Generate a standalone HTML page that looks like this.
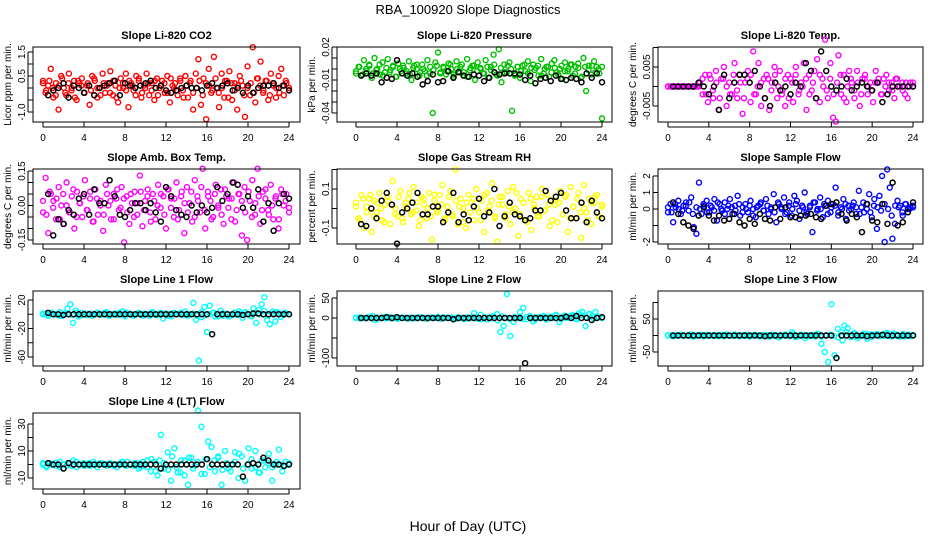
<!DOCTYPE html>
<html><head><meta charset="utf-8">
<style>
html,body{margin:0;padding:0;background:#fff;}
svg{display:block;font-family:"Liberation Sans",sans-serif;}
</style></head>
<body>
<svg id="chart" width="936" height="540" viewBox="0 0 936 540" xmlns="http://www.w3.org/2000/svg">
<rect x="0" y="0" width="936" height="540" fill="#fff"/>
<text x="468" y="14" text-anchor="middle" font-size="13">RBA_100920  Slope Diagnostics</text>
<text x="468" y="531" text-anchor="middle" font-size="14">Hour of Day (UTC)</text>
</svg>
<script>
// ---- data ----
const xTicks = [0,4,8,12,16,20,24];
const co2Color = [0.3,-0.2,0.1,0.8,-0.4,0.2,-0.9,0.5,0.0,-0.3,0.6,-0.1,0.3,-0.5,0.2,0.4,-0.2,0.1,-0.7,0.5,0.3,-0.4,0.0,0.6,-0.2,0.2,0.7,-0.3,0.1,-0.6,0.4,0.0,0.6,-0.8,0.2,-0.1,0.5,0.3,-0.4,0.1,0.6,-0.3,0.2,-0.5,0.4,0.0,0.3,-0.2,0.5,-0.6,0.1,0.2,-0.3,0.4,-0.1,0.5,-0.4,0.3,-0.9,0.6,1.2,-0.7,0.4,-1.3,0.8,-0.2,1.3,0.0,-0.8,0.6,-0.4,0.3,0.7,-0.5,0.2,-0.9,0.5,0.1,-1.2,0.9,-0.3,1.7,-0.6,0.4,1.1,-0.2,0.3,-0.5,0.6,0.1,-0.4,0.5,0.8,-0.3,0.2,0.0];
const co2Band = [0.2,-0.1,0.3,0.0,-0.3,0.1,0.4,-0.2,0.2,0.0,-0.4,0.3,0.1,-0.2,0.2,-0.1,0.4,0.0,-0.3,0.2,0.1,-0.2,0.3,-0.4,0.0,0.2,-0.1,0.3,0.1,-0.3,0.4,-0.2,0.0,0.2,-0.1,0.3,-0.3,0.1,0.2,-0.2,0.4,0.0,-0.1,0.3,-0.4,0.1,0.2,-0.2,0.0,0.3,-0.3,0.2,0.1,-0.1,0.4,-0.2,0.0,0.3,-0.4,0.2,-0.1,0.1,0.3,-0.3,0.0,0.2,-0.2,0.4,0.1,-0.1,0.3,-0.3,0.2,0.0,-0.2,0.1,0.3,-0.1];
const co2Black = [-0.3,-0.1,0.0,0.2,-0.4,0.1,0.0,-0.2,0.1,-0.3,0.0,0.1,0.2,0.3,-0.3,0.2,0.1,0.0,0.1,0.2,0.3,0.0,0.1,-0.1,-0.2,-0.1,0.0,0.1,0.0,0.0,-0.1,0.1,0.2,0.0,0.1,0.2,-0.1,0.0,-0.2,0.1,-0.2,0.0,0.1,0.1,0.2,0.0,0.1,-0.1];
const presColor = [-0.004,0.002,-0.006,0.008,-0.002,0.004,-0.008,0.010,0.0,-0.005,0.006,-0.003,0.009,-0.001,0.003,-0.007,0.005,-0.002,0.001,-0.004,0.007,-0.010,0.003,0.0,-0.006,0.004,-0.002,0.008,-0.004,-0.040,0.006,0.015,-0.003,0.002,-0.005,0.005,0.0,-0.007,0.007,-0.002,0.004,-0.006,0.009,-0.001,0.003,-0.010,0.006,0.001,-0.004,0.008,-0.008,0.002,0.013,-0.005,0.018,-0.012,0.004,-0.003,0.006,-0.038,-0.006,0.002,-0.008,0.003,-0.002,0.007,-0.011,0.004,0.001,-0.006,0.009,-0.004,0.002,-0.007,0.005,0.008,-0.003,0.0,-0.009,0.006,-0.002,0.004,-0.006,0.002,0.005,-0.008,0.010,-0.020,0.003,-0.005,0.007,0.002,-0.004,-0.045];
const presBand = [-0.002,0.002,-0.005,0.0,0.003,-0.004,-0.001,0.004,-0.006,0.001,-0.003,0.002,-0.007,0.0,0.003,-0.002,-0.005,0.001,0.004,-0.003,0.0,-0.006,0.002,-0.001,0.003,-0.004,0.001,-0.002,0.004,-0.005,0.0,0.002,-0.003,-0.007,0.001,0.003,-0.002,0.0,-0.004,0.002,-0.001,0.004,-0.006,0.001,-0.003,0.003,0.0,-0.005,0.002,-0.002,0.004,-0.004,0.001,-0.001,0.003,-0.006,0.0,0.002,-0.003,0.001,-0.005,0.003,-0.002,0.0,0.004,-0.004,0.001,-0.007,0.002,-0.001,0.003,-0.003,0.0,0.002];
const presBlack = [-0.006,-0.004,-0.006,-0.004,-0.012,-0.008,-0.009,0.008,-0.004,-0.006,-0.004,-0.007,-0.014,-0.011,-0.005,-0.012,-0.011,-0.002,-0.008,-0.003,-0.006,-0.007,-0.005,-0.006,-0.011,-0.008,-0.003,-0.005,-0.004,-0.004,-0.004,-0.005,-0.010,-0.006,-0.013,-0.009,-0.008,-0.011,-0.006,-0.009,-0.010,-0.008,-0.009,-0.012,-0.004,-0.008,-0.004,-0.012];
const tempColor = [0,0,0,0,0,0,0,0,0,0,0,0,0.001,-0.002,0.003,-0.004,0.002,-0.003,0.004,-0.006,0.002,0.005,-0.005,0.001,-0.002,0.006,-0.003,0.003,-0.007,0.001,0.004,-0.004,0.009,-0.002,0.006,-0.005,0.002,0.003,-0.006,0.001,0.005,-0.003,0.004,-0.001,-0.005,0.003,0.002,-0.004,0.005,-0.002,0.001,0.006,-0.006,0.003,-0.001,0.004,0.007,-0.004,0.002,0.012,-0.003,0.006,-0.008,-0.009,0.008,-0.002,0.003,-0.004,0.004,0.001,-0.003,0.004,-0.005,0.002,0.003,-0.002,0.001,-0.004,0.004,0.001,-0.002,0.002,0.003,-0.001,0.001,-0.003,0.002,0.0,0.001,-0.002,-0.003,0.001,0.0];
const tempBand = [0,0,0,0,0,0,0,0,0,0,0.002,-0.002,0.003,-0.001,0.001,-0.003,0.002,0.0,-0.002,0.003,-0.001,0.001,-0.003,0.002,0.003,-0.002,0.0,0.001,-0.003,0.002,-0.001,0.003,0.0,-0.002,0.002,-0.003,0.001,0.003,-0.001,0.0,0.002,-0.002,0.001,-0.003,0.003,0.0,-0.001,0.002,-0.002,0.001,0.003,-0.003,0.0,0.002,-0.001,0.001,-0.002,0.002,0.0,-0.001,0.001,0.002,-0.002,0.0,0.001,-0.001,0.002,0.0,-0.001,0.001,0.0,0.001];
const tempBlack = [0,0,0,0,0,0.001,0,-0.002,0,-0.006,0.003,-0.003,0.001,0.003,0.003,0.001,0.004,0,-0.003,-0.005,0.001,-0.001,0.0,-0.002,0.001,0.0,0.006,0.004,-0.003,0.009,0.004,0.0,-0.001,0,0.002,-0.001,0.0,0.001,0,-0.001,0.001,-0.004,-0.002,0.0,0.0,0.0,0.0,0.0];
const ambColor = [-0.03,0.12,-0.12,0.05,0.02,-0.06,0.08,0.0,-0.08,0.10,-0.03,0.04,-0.10,0.06,0.01,-0.05,0.11,-0.02,0.03,-0.07,0.07,-0.04,0.02,-0.11,0.09,0.0,-0.06,0.05,0.03,-0.02,0.08,-0.16,0.04,-0.08,0.01,0.06,-0.04,0.13,-0.09,0.02,0.07,-0.03,0.05,-0.06,0.09,-0.01,0.04,-0.10,0.07,0.03,-0.05,0.10,-0.02,0.06,-0.12,0.08,0.01,-0.07,0.11,0.04,-0.03,0.16,-0.10,0.06,0.02,-0.05,0.09,-0.01,0.07,-0.08,0.04,0.03,-0.06,0.10,-0.02,0.05,-0.13,0.08,-0.15,0.02,0.11,-0.04,0.16,-0.08,0.06,0.03,-0.02,0.09,-0.06,0.04,-0.10,0.07,0.0,0.05,-0.03];
const ambBand = [0.02,-0.04,0.06,-0.01,0.03,-0.06,0.05,0.0,-0.03,0.07,-0.05,0.01,0.04,-0.02,0.06,-0.07,0.03,0.0,-0.04,0.05,0.02,-0.06,0.07,-0.01,0.03,-0.03,0.05,-0.05,0.01,0.06,-0.02,0.04,-0.07,0.02,0.0,0.05,-0.04,0.07,-0.01,0.03,-0.06,0.04,0.01,-0.03,0.06,-0.05,0.02,0.08,-0.02,0.04,-0.06,0.05,0.0,-0.04,0.07,-0.01,0.03,-0.07,0.05,0.02,-0.03,0.06,-0.05,0.01,0.04,-0.02,0.07,-0.04,0.0,0.03,-0.06,0.05,0.02,-0.01];
const ambBlack = [0.05,-0.13,-0.06,-0.08,-0.02,-0.04,0.03,0.05,-0.04,0.07,0.01,0.01,0.11,0.04,-0.04,-0.05,-0.02,0.01,0.01,-0.02,0.01,-0.03,-0.07,0.08,0.04,-0.02,-0.04,-0.05,0.00,-0.03,0.00,-0.03,-0.01,0.08,0.02,0.05,0.10,0.09,-0.01,0.04,-0.01,0.07,-0.07,0.01,-0.11,0.01,0.05,0.03];
const rhColor = [0.03,-0.05,0.07,-0.10,0.01,0.05,-0.12,0.04,-0.02,0.08,-0.06,0.02,0.06,-0.08,0.14,0.00,-0.04,0.09,-0.07,0.03,0.05,-0.03,0.11,-0.01,-0.09,0.06,0.02,-0.05,0.08,-0.16,0.04,-0.02,0.07,0.12,-0.06,0.01,0.09,-0.04,0.20,-0.08,0.05,0.00,-0.10,0.07,0.03,-0.06,0.10,-0.02,0.04,-0.12,0.08,0.01,0.13,-0.05,-0.17,0.06,0.02,-0.03,0.09,-0.08,0.11,0.00,-0.14,0.05,0.03,-0.06,0.08,-0.11,0.02,0.06,-0.04,0.10,-0.01,0.07,-0.09,0.04,0.02,-0.07,0.09,-0.03,0.06,-0.12,0.11,0.01,-0.05,0.08,-0.15,0.12,-0.02,0.05,-0.08,0.03,0.07,-0.04,0.01];
const rhBand = [0.01,-0.06,0.05,-0.02,0.07,-0.04,0.03,0.0,-0.07,0.04,0.02,-0.03,0.06,-0.05,0.01,0.08,-0.02,0.03,-0.06,0.05,0.0,-0.04,0.07,-0.01,0.02,-0.05,0.06,-0.03,0.04,0.01,-0.07,0.03,-0.02,0.05,0.0,-0.06,0.07,-0.01,0.04,-0.04,0.02,0.06,-0.05,0.01,-0.02,0.08,-0.03,0.03,-0.07,0.05,0.0,-0.04,0.06,-0.01,0.02,-0.06,0.04,0.03,-0.03,0.07,-0.05,0.01,0.05,-0.02,0.0,-0.06,0.03,0.06,-0.04,0.02];
const rhBlack = [-0.08,-0.09,0.00,-0.05,0.04,0.08,0.02,-0.18,-0.02,0.00,0.03,0.08,-0.03,-0.03,0.01,0.01,-0.07,-0.02,0.08,-0.07,-0.03,-0.06,0.01,0.05,-0.04,-0.02,0.10,-0.09,-0.04,0.03,-0.03,-0.04,-0.06,-0.05,-0.01,-0.01,0.09,0.04,0.06,0.08,-0.01,-0.05,-0.05,0.03,-0.07,0.04,-0.02,-0.05];
const flowColor = [-0.2,0.3,-0.8,0.1,0.5,-0.3,0.2,0.4,-0.1,0.7,-1.1,-1.5,1.6,-0.3,0.2,0.5,-0.2,0.1,0.6,-0.7,0.3,-0.1,0.4,0.0,0.6,-0.3,0.2,0.8,-0.4,0.1,0.3,-0.2,0.5,0.0,-0.5,0.2,0.4,-0.1,0.6,-0.3,0.1,0.9,-0.8,0.3,0.0,0.7,-0.2,0.4,-0.4,0.8,0.5,-0.6,0.2,1.0,-0.3,0.1,-1.4,0.4,0.0,0.7,-0.5,0.2,0.5,-0.2,0.3,1.3,-0.4,0.1,0.6,-0.6,0.2,0.0,0.4,-0.3,1.1,0.1,-0.2,0.3,0.9,-0.5,0.6,-1.2,0.8,2.0,-2.0,2.4,1.3,-1.8,-0.9,0.5,0.2,-0.4,0.3,0.0,0.1,0.2];
const flowBand = [0.1,-0.2,0.3,0.0,-0.1,0.2,0.4,-0.3,0.1,0.0,0.3,-0.2,0.2,-0.1,0.4,0.0,-0.3,0.2,0.1,-0.1,0.3,-0.2,0.0,0.2,-0.4,0.1,0.3,-0.1,0.2,0.0,-0.2,0.4,0.1,-0.3,0.2,0.0,0.3,-0.1,0.1,-0.2,0.2,0.4,-0.1,0.0,0.3,-0.3,0.1,0.2,-0.2,0.0,0.3,-0.1,0.2,0.1,-0.3,0.4,0.0,-0.2,0.2,0.1,-0.1,0.3,0.0,-0.4,0.2,0.1,-0.2,0.3,0.0,0.1];
const flowBlack = [0.4,-0.3,-0.8,-1.0,-1.2,-0.4,0.1,-0.4,-0.7,-0.4,-0.7,-0.6,-0.3,-0.8,-1.0,-0.6,-0.9,-0.3,-0.6,-0.7,0.1,-0.6,0.1,-0.5,-0.5,-0.4,-0.4,-0.3,-0.5,-0.6,0.2,0.3,0.4,-0.3,-0.7,-0.3,-0.5,-1.4,0.3,-0.7,-0.8,0.3,-0.9,1.6,-1.0,-0.8,-0.2,0.4];
const line1Color = [0,1,-2,2,0,-1,3,-2,1,8,14,-12,5,-3,2,0,-1,1,-2,0,2,-1,1,3,-2,0,1,-1,2,4,-3,0,1,-2,0,2,-1,1,0,-2,3,0,-1,2,-6,1,0,-3,2,0,1,-1,4,-2,0,16,-8,-65,-4,10,-25,12,2,-3,0,5,-2,1,-3,0,2,-1,1,-5,3,0,-2,8,-12,6,14,24,-8,-14,4,-10,2,0,-1,1,0];
const line1Band = [1,-1,2,0,-2,1,0,-1,2,-2,1,0,-1,2,0,1,-2,0,1,-1,2,0,-1,1,-2,0,2,-1,1,0,-2,1,0,2,-1,0,1,-2,3,-1,0,2,-3,1,0,-2,2,4,-1,1,-3,2,0,5,-2,1,3,-4,2,0];
const line1Black = [2,0,0,-1,0,0,0,0,0,0,0,0,0,0,0,0,0,0,0,0,0,0,0,0,0,0,0,0,0,0,0,0,-28,0,0,0,0,0,-1,0,1,1,0,0,0,0,0,0];
const line2Color = [0,1,0,-1,2,5,-5,0,1,3,0,-1,2,0,1,0,-2,0,1,0,2,-1,0,1,0,3,-2,0,1,0,-1,2,0,-3,1,0,12,-2,8,0,-4,2,0,10,-35,-20,60,-45,-10,0,15,25,-3,5,-8,2,0,1,-4,3,0,6,-10,2,0,4,8,-2,12,15,-20,10,5,15,2,0];
const line2Band = [1,-1,0,2,-2,1,0,-1,2,0,-2,1,0,1,-1,2,0,-2,1,0,-1,2,0,1,-2,0,1,-1,3,0,-3,2,-1,5,-6,4,0,-3,2,1,-2,3,0,-4,2,5,-1,3,8,-2,6,0,4,-3,7,2,10,-1,3,0];
const line2Black = [0,0,0,0,0,2,0,2,0,0,0,0,0,0,0,0,0,0,-3,0,0,0,0,0,0,0,0,0,0,0,0,0,-113,0,0,0,0,0,0,0,3,0,5,0,0,-5,0,2];
const line3Color = [0,1,-2,0,2,-1,0,3,-3,1,0,-2,2,0,-1,1,0,-2,3,-1,0,1,-2,0,2,-3,1,0,-1,0,2,-4,0,1,-6,0,3,-2,10,-5,0,2,-8,1,0,-3,4,-25,-50,-80,95,-60,20,10,30,22,-5,8,-8,0,6,-10,3,0,5,-2,4,8,-3,6,0,-4,5,1,-2,0];
const line3Band = [1,-2,0,2,-1,1,-3,0,2,-1,0,1,-2,2,0,-1,3,-2,1,0,-1,2,-3,1,0,2,-2,0,1,-1,3,-4,2,0,-2,1,5,-3,0,2,-1,-6,-15,10,-3,4,-2,1,3,-5,2,0,-1,4,-2,3,0,-3,2,1];
const line3Black = [0,0,0,0,0,0,0,0,0,0,0,0,0,0,0,0,0,0,-2,0,0,0,0,0,0,0,0,0,0,0,0,0,-68,0,0,0,0,0,-2,0,0,2,0,0,0,0,0,0];
const line4Color = [0,-2,1,0,-1,2,0,-1,1,3,-2,0,1,0,-1,2,0,1,0,-1,1,0,-2,1,0,2,0,-1,1,-2,0,3,-5,2,-8,22,-3,9,-12,12,-6,3,-8,-15,5,-1,40,28,-7,17,13,-5,5,-15,10,-3,0,9,-10,6,-12,12,-3,10,-6,3,-2,8,-12,0,11,-5,2,0];
const line4Band = [1,-1,0,1,-2,0,1,-1,2,0,-1,1,0,-2,1,0,1,-1,0,2,-1,0,1,-3,2,-2,4,-5,3,1,-4,6,-2,-6,3,5,-3,2,-7,4,-2,3,6,-4,1,-5,2,8,-3,0,4,-2,-6,3,1,-2,2,0,-1,1];
const line4Black = [1,0,0,-3,1,0,0,0,0,0,0,0,0,0,0,0,0,0,0,0,0,0,-3,0,0,0,0,0,0,0,0,4,0,0,0,0,0,0,-9,0,1,0,5,3,0,0,-1,0];

// ---- layout ----
const cols = [{l:33,r:300,x0:43,x24:289},{l:337,r:612,x0:356,x24:602},{l:658,r:923,x0:668,x24:913}];
const rows = [{t:47,b:122},{t:169,b:244},{t:291,b:366},{t:413,b:489}];
const NS = "http://www.w3.org/2000/svg";
const svg = document.getElementById("chart");

function mk(tag, attrs, parent){
  const e = document.createElementNS(NS, tag);
  for (const k in attrs) e.setAttribute(k, attrs[k]);
  (parent||svg).appendChild(e);
  return e;
}

function panel(cfg){
  const c = cols[cfg.col], r = rows[cfg.row];
  const g = mk("g", {});
  
  
  const xs = v => c.x0 + (c.x24 - c.x0) * v / 24;
  const ys = v => cfg.p1 + (cfg.p2 - cfg.p1) * (v - cfg.v1) / (cfg.v2 - cfg.v1);
  const t = mk("text", {x:(c.l+c.r)/2, y:r.t-8, "text-anchor":"middle", "font-size":"11", "font-weight":"bold"}, g);
  
  
  t.textContent = cfg.title;
  const yl = mk("text", {transform:`translate(${c.l-22},${(r.t+r.b)/2}) rotate(-90)`, "text-anchor":"middle", "font-size":"10"}, g);
  
  
  yl.textContent = cfg.ylabel;
  [cfg.colorVals, cfg.bandVals].forEach(arr=>{
    const n = arr.length;
    arr.forEach((v,i)=>{
      const p = mk("circle", {cx:xs(24*i/(n-1)), cy:ys(v), r:2.5, fill:"none", stroke:cfg.color, "stroke-width":1.4}, g);
      
      
    });
  });
  cfg.blackVals.forEach((v,i)=>{
    const p = mk("circle", {cx:xs(0.5*(i+1)), cy:ys(v), r:2.5, fill:"none", stroke:"#000", "stroke-width":1.5}, g);
    
    
  });
  const bx = mk("rect", {x:c.l, y:r.t, width:c.r-c.l, height:r.b-r.t, fill:"none", stroke:"#000", "stroke-width":1}, g);
  
  
  const xa = mk("path", {d:`M${xs(0)},${r.b+5}H${xs(24)}` + xTicks.map(v=>`M${xs(v)},${r.b+5}V${r.b}`).join(""), stroke:"#000", fill:"none"}, g);
  
  
  xTicks.forEach(v=>{
    const tl = mk("text", {x:xs(v), y:r.b+19, "text-anchor":"middle", "font-size":"10"}, g);
    
    
    tl.textContent = v;
  });
  const tv = cfg.ticks;
  const ya = mk("path", {d:`M${c.l-5},${ys(tv[0])}V${ys(tv[tv.length-1])}` + tv.map(v=>`M${c.l-5},${ys(v)}H${c.l}`).join(""), stroke:"#000", fill:"none"}, g);
  
  
  cfg.tickLabels.forEach((lab,i)=>{
    if (lab === null) return;
    const tl = mk("text", {transform:`translate(${c.l-8},${ys(tv[i])}) rotate(-90)`, "text-anchor":"middle", "font-size":"10"}, g);
    
    
    tl.textContent = lab;
  });
}

panel({name:"co2", title:"Slope Li-820 CO2", ylabel:"Licor ppm per min.", col:0, row:0, color:"#ff0000", v1:1.5, p1:52, v2:-1.0, p2:112, ticks:[1.5,1.0,0.5,0.0,-0.5,-1.0], tickLabels:["1.5",null,"0.5",null,null,"-1.0"], colorVals:co2Color, bandVals:co2Band, blackVals:co2Black});
panel({name:"pressure", title:"Slope Li-820 Pressure", ylabel:"kPa per min.", col:1, row:0, color:"#00c000", v1:0.02, p1:47, v2:-0.04, p2:113, ticks:[0.02,0.01,0,-0.01,-0.02,-0.03,-0.04], tickLabels:["0.02",null,null,"-0.01",null,null,"-0.04"], colorVals:presColor, bandVals:presBand, blackVals:presBlack});
panel({name:"li820-temp", title:"Slope Li-820 Temp.", ylabel:"degrees C per min.", col:2, row:0, color:"#ff00ff", v1:0.005, p1:67, v2:-0.005, p2:106, ticks:[0.01,0.005,0,-0.005], tickLabels:[null,"0.005",null,"-0.005"], colorVals:tempColor, bandVals:tempBand, blackVals:tempBlack});
panel({name:"amb-box-temp", title:"Slope Amb. Box Temp.", ylabel:"degrees C per min.", col:0, row:1, color:"#ff00ff", v1:0.15, p1:171, v2:-0.15, p2:240, ticks:[0.15,0.10,0.05,0,-0.05,-0.10,-0.15], tickLabels:["0.15",null,null,"0.00",null,null,"-0.15"], colorVals:ambColor, bandVals:ambBand, blackVals:ambBlack});
panel({name:"gas-stream-rh", title:"Slope Gas Stream RH", ylabel:"percent per min.", col:1, row:1, color:"#ffff00", v1:0.1, p1:189, v2:-0.1, p2:228, ticks:[0.2,0.1,0,-0.1], tickLabels:[null,"0.1",null,"-0.1"], colorVals:rhColor, bandVals:rhBand, blackVals:rhBlack});
panel({name:"sample-flow", title:"Slope Sample Flow", ylabel:"ml/min per min.", col:2, row:1, color:"#0000ff", v1:2, p1:176, v2:-2, p2:242, ticks:[2,1,0,-1,-2], tickLabels:["2","1","0",null,"-2"], colorVals:flowColor, bandVals:flowBand, blackVals:flowBlack});
panel({name:"line1-flow", title:"Slope Line 1 Flow", ylabel:"ml/min per min.", col:0, row:2, color:"#00ffff", v1:20, p1:300, v2:-60, p2:357, ticks:[20,0,-20,-40,-60], tickLabels:["20",null,"-20",null,"-60"], colorVals:line1Color, bandVals:line1Band, blackVals:line1Black});
panel({name:"line2-flow", title:"Slope Line 2 Flow", ylabel:"ml/min per min.", col:1, row:2, color:"#00ffff", v1:50, p1:298, v2:-100, p2:358, ticks:[50,0,-50,-100], tickLabels:["50","0",null,"-100"], colorVals:line2Color, bandVals:line2Band, blackVals:line2Black});
panel({name:"line3-flow", title:"Slope Line 3 Flow", ylabel:"ml/min per min.", col:2, row:2, color:"#00ffff", v1:50, p1:319, v2:-50, p2:352, ticks:[100,50,0,-50], tickLabels:[null,"50",null,"-50"], colorVals:line3Color, bandVals:line3Band, blackVals:line3Black});
panel({name:"line4-flow", title:"Slope Line 4 (LT) Flow", ylabel:"ml/min per min.", col:0, row:3, color:"#00ffff", v1:30, p1:424, v2:-10, p2:478, ticks:[30,20,10,0,-10], tickLabels:["30",null,"10",null,"-10"], colorVals:line4Color, bandVals:line4Band, blackVals:line4Black});
</script>
</body></html>
